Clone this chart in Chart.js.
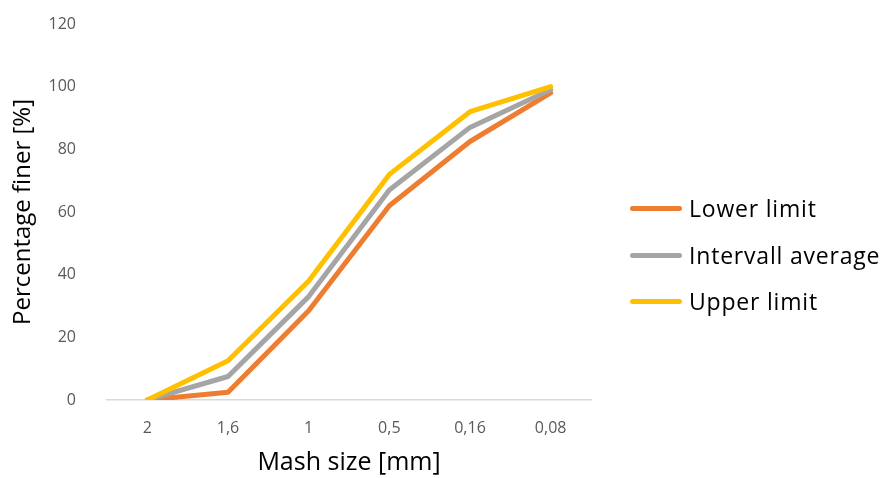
<!DOCTYPE html>
<html>
<head>
<meta charset="utf-8">
<script src="https://cdn.jsdelivr.net/npm/chart.js@4/dist/chart.umd.min.js"></script>
<style>
  html, body { margin: 0; padding: 0; background: #fff; }
  #wrap { position: relative; width: 883px; height: 478px; }
  #legend { position: absolute; left: 630px; top: 0; }
  .item { position: absolute; left: 0; display: flex; align-items: center; white-space: nowrap;
          font-family: "Open Sans", "Liberation Sans", sans-serif; font-size: 23px; line-height: 23px;
          letter-spacing: 0.8px; color: #000; }
  .swatch { width: 52px; height: 5px; border-radius: 2.5px; margin-right: 7px; }
</style>
</head>
<body>
<div id="wrap">
  <canvas id="grading"></canvas>
  <div id="legend"></div>
</div>
<script>
// Sieve sizes (mm), coarse to fine
const meshSizes = ['2', '1,6', '1', '0,5', '0,16', '0,08'];

// Percentage passing for each envelope
const lowerLimit = [0, 2.5, 28.5, 62, 82.5, 98];
const intervalAverage = [0, 7.5, 33, 67, 87, 99];
const upperLimit = [0, 12.5, 38, 72, 92, 100];

const yTicks = [0, 20, 40, 60, 80, 100, 120];

const FONT = '"Open Sans", "Liberation Sans", sans-serif';

function lineSet(label, data, color, order) {
  return {
    label,
    data,
    borderColor: color,
    backgroundColor: color,
    borderWidth: 5,
    borderCapStyle: 'round',
    borderJoinStyle: 'round',
    pointRadius: 0,
    pointHoverRadius: 0,
    tension: 0,
    fill: false,
    order
  };
}

const chart = new Chart(document.getElementById('grading'), {
  type: 'line',
  data: {
    labels: meshSizes,
    datasets: [
      lineSet('Lower limit', lowerLimit, '#ED7D31', 3),
      lineSet('Intervall average', intervalAverage, '#A5A5A5', 2),
      lineSet('Upper limit', upperLimit, '#FFC000', 1)
    ]
  },
  options: {
    responsive: true,
    maintainAspectRatio: false,
    animation: false,
    // right side is kept free for the legend
    layout: { padding: { top: 0, left: 8, right: 292, bottom: 0 } },
    plugins: {
      tooltip: { enabled: false },
      legend: { display: false }
    },
    scales: {
      x: {
        offset: true,
        grid: { display: false, drawTicks: false },
        border: { color: '#D9D9D9', width: 1.5 },
        ticks: { color: '#595959', font: { family: FONT, size: 16 }, padding: 19 },
        title: {
          display: true,
          text: 'Mash size [mm]',
          color: '#000',
          font: { family: FONT, size: 25 },
          padding: { top: 13, bottom: 0 }
        },
        afterFit: scale => {
          scale.height = 78;
          scale.paddingLeft = 0;
          scale.paddingRight = 0;
        }
      },
      y: {
        min: 0,
        max: 120,
        afterBuildTicks: axis => { axis.ticks = yTicks.map(v => ({ value: v })); },
        grid: { display: false, drawTicks: false },
        border: { display: false },
        ticks: { color: '#595959', font: { family: FONT, size: 16 }, padding: 31 },
        title: {
          display: true,
          text: 'Percentage finer [%]',
          color: '#000',
          font: { family: FONT, size: 24 },
          padding: { top: 1, bottom: 8 }
        },
        afterFit: scale => {
          scale.width = 99;
          scale.paddingTop = 24;
          scale.paddingBottom = 10;
        }
      }
    }
  }
});

// legend rows, centred on the given y positions
const legendRows = [208, 255, 301];
const legendEl = document.getElementById('legend');
chart.data.datasets.forEach((ds, i) => {
  const row = document.createElement('div');
  row.className = 'item';
  row.style.top = (legendRows[i] - 11.5) + 'px';
  const sw = document.createElement('span');
  sw.className = 'swatch';
  sw.style.background = ds.borderColor;
  row.appendChild(sw);
  row.appendChild(document.createTextNode(ds.label));
  legendEl.appendChild(row);
});
</script>
</body>
</html>
